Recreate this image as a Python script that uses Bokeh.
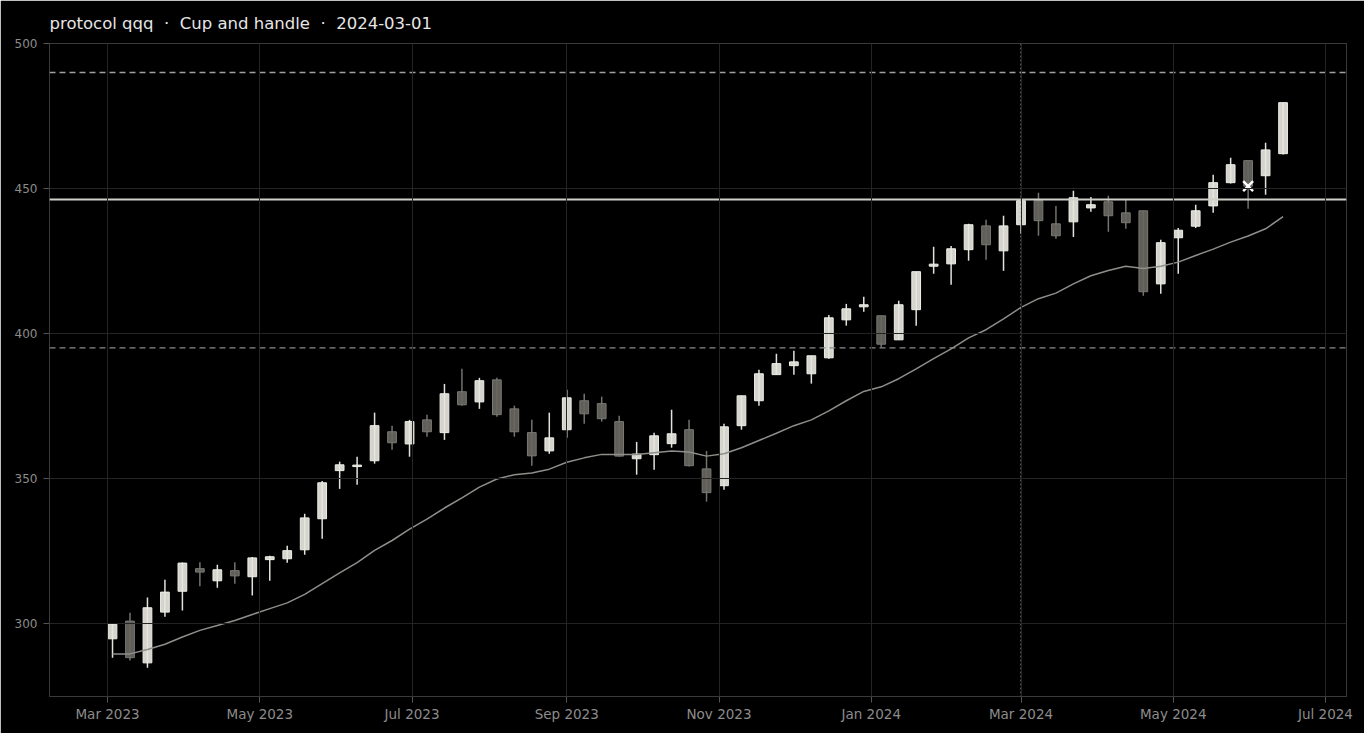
import pandas as pd
from bokeh.plotting import figure
from bokeh.models import ColumnDataSource, Range1d, FixedTicker, DatetimeTickFormatter, Span
from bokeh.embed import file_html
from bokeh.resources import INLINE

# ---------------- data ----------------
dates = pd.date_range("2023-03-03", periods=68, freq="7D")

opens = [294.7, 300.8, 286.4, 303.9, 311.1, 318.9, 314.7, 318.2, 316.1, 322.0,
         322.3, 325.4, 336.1, 352.7, 354.1, 356.1, 366.1, 361.9, 370.2, 365.8,
         379.9, 376.4, 384.0, 374.0, 365.8, 359.5, 366.8, 376.8, 375.8, 369.6,
         356.8, 358.2, 362.0, 366.8, 353.3, 347.5, 368.2, 376.8, 385.8, 388.9,
         386.1, 391.6, 404.7, 409.2, 406.1, 397.8, 408.2, 423.2, 424.0, 428.9,
         437.1, 428.5, 437.5, 445.8, 437.8, 438.5, 443.3, 445.4, 441.6, 442.3,
         417.1, 433.0, 437.0, 444.0, 452.0, 459.6, 454.4, 462.0]
highs = [300.1, 303.7, 308.9, 315.1, 321.0, 321.1, 320.2, 321.1, 322.9, 323.3,
         326.8, 337.8, 349.1, 355.8, 357.5, 372.7, 368.2, 370.2, 372.0, 382.6,
         387.8, 384.7, 384.7, 375.1, 370.2, 372.7, 380.6, 379.2, 378.2, 371.6,
         362.6, 365.8, 373.7, 370.2, 359.5, 368.9, 378.5, 387.5, 393.0, 394.0,
         392.3, 406.4, 410.2, 412.7, 406.1, 411.3, 421.3, 429.9, 430.2, 437.8,
         439.2, 440.6, 446.0, 448.5, 444.0, 449.2, 447.1, 447.5, 446.1, 442.3,
         432.3, 436.4, 444.4, 454.7, 460.6, 459.6, 465.8, 479.6]
lows = [288.2, 287.2, 284.7, 302.3, 304.5, 312.8, 312.3, 313.7, 309.6, 314.7,
        320.9, 323.7, 329.2, 346.4, 347.8, 355.1, 359.9, 357.5, 364.4, 363.3,
        375.1, 374.0, 371.3, 364.4, 354.4, 358.5, 364.0, 368.9, 369.6, 357.5,
        351.3, 353.0, 360.6, 354.1, 342.0, 346.1, 366.8, 375.1, 385.8, 385.8,
        382.7, 391.3, 402.7, 407.5, 395.3, 397.8, 402.7, 420.6, 416.8, 425.1,
        425.4, 421.6, 434.4, 433.7, 432.7, 433.3, 442.0, 435.1, 436.1, 413.0,
        413.7, 420.6, 436.4, 441.6, 451.7, 443.0, 447.8, 461.7]
closes = [299.7, 288.2, 305.4, 310.8, 320.8, 317.7, 318.5, 316.4, 322.6, 323.0,
          325.1, 336.4, 348.5, 354.7, 354.6, 368.2, 362.3, 369.6, 366.1, 379.2,
          375.4, 383.7, 372.0, 366.1, 357.8, 364.0, 377.8, 372.3, 370.6, 357.7,
          358.4, 364.7, 365.4, 354.4, 345.1, 367.8, 378.5, 386.1, 389.6, 390.2,
          392.3, 405.4, 408.5, 409.9, 396.3, 409.9, 421.3, 423.9, 429.2, 437.5,
          430.6, 437.1, 445.8, 438.9, 433.7, 446.8, 444.4, 440.6, 438.2, 414.4,
          431.3, 435.6, 442.3, 452.0, 458.2, 450.8, 463.3, 479.6]
moving_avg = [289.5, 289.5, 291.0, 292.8, 295.3, 297.6, 299.3, 301.0, 303.1, 305.1,
              307.1, 310.0, 313.7, 317.4, 321.0, 325.2, 328.6, 332.5, 336.0, 339.8,
              343.3, 347.0, 349.8, 351.3, 351.9, 353.2, 355.6, 357.1, 358.3, 358.3,
              358.3, 358.9, 359.5, 359.1, 357.7, 358.5, 360.6, 363.1, 365.6, 368.2,
              370.2, 373.3, 376.8, 380.0, 381.6, 384.4, 387.8, 391.3, 394.7, 398.5,
              401.3, 405.0, 409.0, 412.0, 413.9, 417.1, 419.9, 421.7, 423.2, 422.4,
              423.2, 424.6, 426.9, 429.1, 431.5, 433.6, 436.1, 440.3]

upper_dashed_level = 490.0
neckline_level = 446.2
lower_dashed_level = 395.0
event_date = "2024-03-01"
marker_index = 65
marker_price = 450.8

y_ticks = [300, 350, 400, 450, 500]
x_tick_dates = ["2023-03-01", "2023-05-01", "2023-07-01", "2023-09-01", "2023-11-01",
                "2024-01-01", "2024-03-01", "2024-05-01", "2024-07-01"]
title_text = "protocol qqq \u00a0\u00b7\u00a0 Cup and handle \u00a0\u00b7\u00a0 2024-03-01"

# ---------------- build ----------------
def ms(d):
    return pd.Timestamp(d).value / 1e6

df = pd.DataFrame(dict(date=dates, open=opens, high=highs, low=lows, close=closes))
df["top"] = df[["open", "close"]].max(axis=1)
df["bottom"] = df[["open", "close"]].min(axis=1)
up = df[df.close >= df.open]
down = df[df.close < df.open]
src_up = ColumnDataSource(up)
src_down = ColumnDataSource(down)

p = figure(width=1364, height=733, x_axis_type="datetime",
           output_backend="svg", toolbar_location=None,
           x_range=Range1d(pd.Timestamp("2023-02-05 18:00"), pd.Timestamp("2024-07-09 10:00")),
           y_range=Range1d(274.8, 500),
           background_fill_color="#000000", border_fill_color="#000000",
           min_border_left=49, min_border_right=18, min_border_top=43, min_border_bottom=37)

p.title.text = title_text
p.title.text_font = "DejaVu Sans"
p.title.text_font_size = "16.5px"
p.title.text_font_style = "normal"
p.title.text_color = "#e6e6e6"
p.title.standoff = 22

body_w = 3.5 * 86400000

# wicks
p.segment(x0="date", y0="low", x1="date", y1="high", source=src_down,
          line_color="#74736e", line_width=1.5)
p.segment(x0="date", y0="low", x1="date", y1="high", source=src_up,
          line_color="#e2e2dc", line_width=1.5)
# bodies
p.vbar(x="date", width=body_w, top="top", bottom="bottom", source=src_down,
       fill_color="#67665f", fill_alpha=0.92, line_color="#7a7974", line_width=1)
p.vbar(x="date", width=body_w, top="top", bottom="bottom", source=src_up,
       fill_color="#e6e6de", fill_alpha=0.92, line_color="#efefea", line_width=1)

# moving average
p.line(x=list(dates), y=moving_avg, line_color="#8e8e8a", line_width=1.5)

# level lines
p.add_layout(Span(location=upper_dashed_level, dimension="width",
                  line_color="#a0a0a0", line_dash="6 4", line_width=1.3))
p.add_layout(Span(location=neckline_level, dimension="width",
                  line_color="#cfcfc8", line_width=2))
p.add_layout(Span(location=lower_dashed_level, dimension="width",
                  line_color="#8a8a8a", line_dash="6 4", line_width=1.3))
p.add_layout(Span(location=ms(event_date), dimension="height",
                  line_color="#9a9a9a", line_dash="2 2", line_width=1))

# marker
p.scatter(x=[dates[marker_index]], y=[marker_price], marker="x", size=14,
          line_color="#ffffff", line_width=2.5)

# axes / grid
x_ticks = [ms(d) for d in x_tick_dates]
p.xaxis.ticker = FixedTicker(ticks=x_ticks)
fmt = "%b %Y"
p.xaxis.formatter = DatetimeTickFormatter(months=fmt, days=fmt, years=fmt, hours=fmt)
p.yaxis.ticker = FixedTicker(ticks=y_ticks)

for ax in (p.xaxis[0], p.yaxis[0]):
    ax.axis_line_color = None
    ax.major_tick_line_color = "#555555"
    ax.major_tick_out = 6
    ax.major_tick_in = 0
    ax.minor_tick_line_color = None
    ax.major_label_text_color = "#8c8c8c"
    ax.major_label_text_font = "DejaVu Sans"
p.xaxis.major_label_text_font_size = "13.5px"
p.yaxis.major_label_text_font_size = "12px"
p.yaxis.major_label_standoff = 6
p.xaxis.major_label_standoff = 3

p.xgrid.ticker = FixedTicker(ticks=x_ticks)
p.ygrid.ticker = FixedTicker(ticks=y_ticks)
for g in (p.xgrid[0], p.ygrid[0]):
    g.grid_line_color = "#242424"
    g.grid_line_width = 1
    g.level = "overlay"

p.outline_line_color = "#3a3a3a"
p.outline_line_width = 1

open("out.html", "w").write(file_html(p, INLINE))
